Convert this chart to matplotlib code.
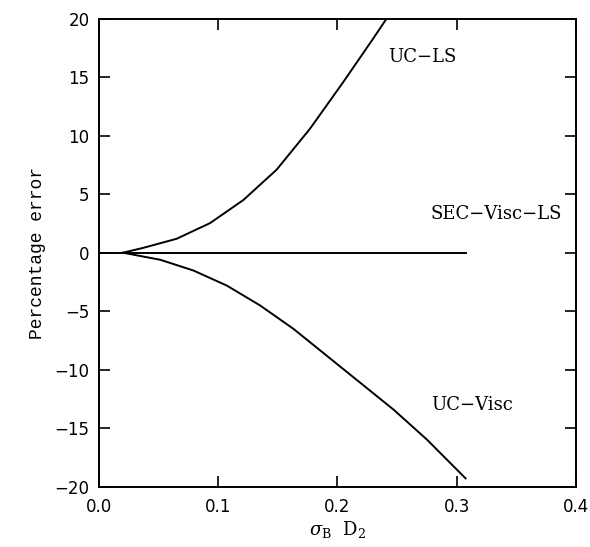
import matplotlib
matplotlib.use("Agg")
import matplotlib.pyplot as plt

# curve readings (sigma_B D_2, percentage error)
uc_ls_x = [0.02, 0.0372, 0.065, 0.0931, 0.121, 0.149, 0.177, 0.205, 0.230, 0.2412]
uc_ls_y = [0.0, 0.42, 1.19, 2.53, 4.50, 7.10, 10.6, 14.6, 18.3, 20.0]

uc_visc_x = [0.02, 0.0512, 0.0791, 0.107, 0.135, 0.163, 0.191, 0.219, 0.247, 0.275, 0.3075]
uc_visc_y = [0.0, -0.60, -1.52, -2.80, -4.50, -6.50, -8.80, -11.1, -13.4, -15.96, -19.28]

sec_x = [0.0, 0.3075]
sec_y = [0.0, 0.0]

labels = ["UC\u2212LS", "SEC\u2212Visc\u2212LS", "UC\u2212Visc"]
label_x = [0.2424, 0.2784, 0.2784]
label_y = [16.7, 3.3, -13.0]

fig = plt.figure(figsize=(5.9, 5.47), dpi=100)
ax = fig.add_axes([0.168, 0.110, 0.808, 0.856])

ax.plot(uc_ls_x, uc_ls_y, color='black', lw=1.4)
ax.plot(uc_visc_x, uc_visc_y, color='black', lw=1.4)
ax.plot(sec_x, sec_y, color='black', lw=1.4)

for t, x, y in zip(labels, label_x, label_y):
    ax.text(x, y, t, family='DejaVu Serif', fontsize=13, va='center', ha='left')

ax.set_xlim(0, 0.4)
ax.set_ylim(-20, 20)
ax.set_xticks([0.0, 0.1, 0.2, 0.3, 0.4])
ax.set_xticklabels(["0.0", "0.1", "0.2", "0.3", "0.4"])
ax.set_yticks([-20, -15, -10, -5, 0, 5, 10, 15, 20])

ax.tick_params(direction='in', length=8, width=1.2, top=True, right=True,
               labelsize=12, colors='black')
ax.tick_params(axis='x', pad=8)
ax.tick_params(axis='y', pad=7)
for s in ax.spines.values():
    s.set_linewidth(1.4)

ax.set_ylabel("Percentage error", family='Liberation Mono', fontsize=13, labelpad=6)
ax.set_xlabel(r"$\sigma_{\rm B}\ \ {\rm D}_2$", fontsize=13, labelpad=2,
              math_fontfamily='dejavuserif')

fig.savefig("out.png", dpi=100)
